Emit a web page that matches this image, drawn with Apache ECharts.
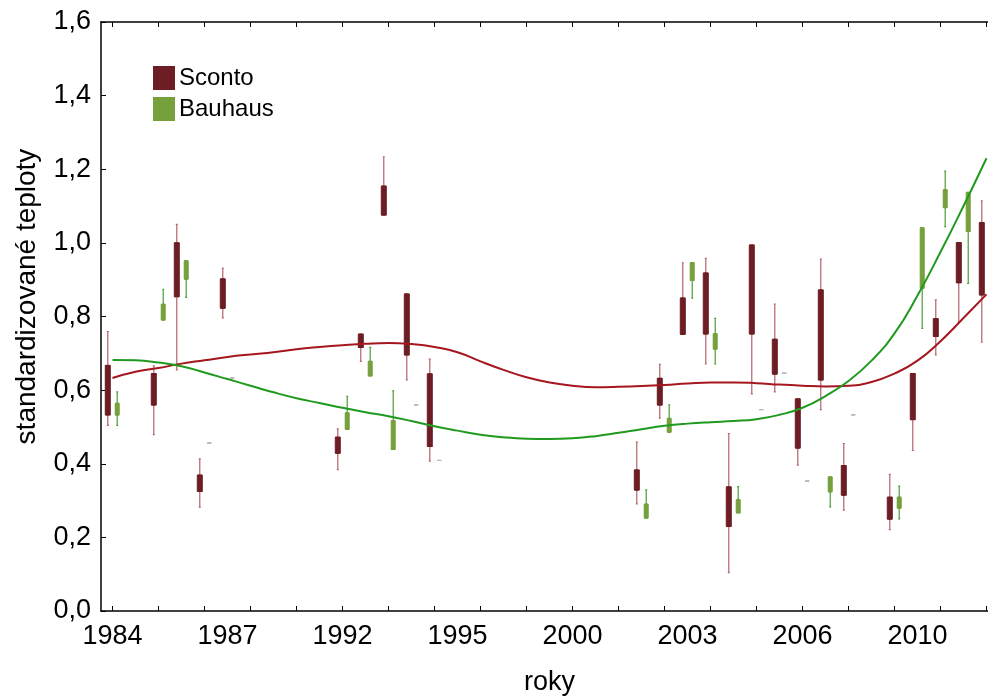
<!DOCTYPE html>
<html><head><meta charset="utf-8">
<script src="https://cdn.jsdelivr.net/npm/echarts@6/dist/echarts.min.js"></script>
<style>html,body{margin:0;padding:0;background:#fff}#c{width:988px;height:698px}</style>
</head><body><div id="c"></div>
<script>
// ---- categories (x axis) ----
const categories = ['1984','1985','1985','1986','1986','1987','1988','1989','1990','1991',
  '1992','1993','1993','1994','1994','1995','1996','1997','1998','1999',
  '2000','2001','2001','2002','2002','2003','2004','2004','2005','2005',
  '2006','2007','2007','2008','2009','2010','2011','2011','2012'];
const yTickLabels = ['0,0','0,2','0,4','0,6','0,8','1,0','1,2','1,4','1,6'];

// ---- Sconto: whisker low, box low, box high, whisker high ----
const N = null;
const scontoWhiskLow  = [0.504,N,0.479,0.655,0.282,0.796,N,N,N,N, 0.384,0.678,1.076,0.628,0.407,N,N,N,N,N, N,N,N,0.291,0.524,0.752,0.671,0.104,0.590,0.595, 0.396,0.547,0.274,N,0.221,0.436,0.696,0.786,0.730];
const scontoBoxLow    = [0.533,N,0.560,0.854,0.325,0.823,N,N,N,N, 0.429,0.716,1.076,0.696,0.447,N,N,N,N,N, N,N,N,0.329,0.560,0.752,0.753,0.230,0.753,0.644, 0.443,0.628,0.315,N,0.250,0.520,0.746,0.892,0.859];
const scontoBoxHigh   = [0.667,N,0.645,1.000,0.369,0.902,N,N,N,N, 0.472,0.752,1.154,0.861,0.644,N,N,N,N,N, N,N,N,0.383,0.632,0.850,0.918,0.337,0.994,0.738, 0.576,0.872,0.395,N,0.309,0.645,0.794,1.001,1.055];
const scontoWhiskHigh = [0.759,N,0.666,1.050,0.413,0.931,N,N,N,N, 0.495,0.752,1.234,0.861,0.684,N,N,N,N,N, N,N,N,0.459,0.670,0.946,0.958,0.482,0.994,0.834, 0.576,0.956,0.455,N,0.371,0.645,0.845,1.001,1.114];

// ---- Bauhaus ----
const bauhausWhiskLow  = [0.504,N,0.791,0.852,0.456,0.633,N,N,N,N, 0.494,0.639,0.439,0.560,0.409,N,N,N,N,N, N,N,N,0.253,0.486,0.850,0.671,0.267,0.547,0.646, 0.353,0.283,0.533,N,0.250,0.768,1.044,0.890,N];
const bauhausBoxLow    = [0.533,N,0.791,0.902,0.456,0.633,N,N,N,N, 0.494,0.639,0.439,0.560,0.409,N,N,N,N,N, N,N,N,0.253,0.486,0.898,0.712,0.267,0.547,0.646, 0.353,0.324,0.533,N,0.280,0.877,1.096,1.031,N];
const bauhausBoxHigh   = [0.564,N,0.833,0.951,0.456,0.633,N,N,N,N, 0.538,0.678,0.517,0.560,0.409,N,N,N,N,N, N,N,N,0.290,0.523,0.946,0.753,0.302,0.547,0.646, 0.353,0.364,0.533,N,0.309,1.041,1.144,1.137,N];
const bauhausWhiskHigh = [0.595,N,0.874,0.951,0.456,0.633,N,N,N,N, 0.583,0.716,0.598,0.560,0.409,N,N,N,N,N, N,N,N,0.329,0.560,0.946,0.795,0.338,0.547,0.646, 0.353,0.364,0.533,N,0.339,1.041,1.195,1.137,N];

// ---- fitted curves (values at category centres) ----
const scontoTrend  = [0.633,0.650,0.660,0.672,0.681,0.690,0.697,0.703,0.711,0.717,
  0.722,0.726,0.728,0.725,0.717,0.703,0.678,0.655,0.635,0.621,
  0.612,0.608,0.609,0.611,0.614,0.618,0.621,0.621,0.619,0.615,
  0.612,0.610,0.612,0.622,0.645,0.680,0.733,0.796,0.860];
const bauhausTrend = [0.682,0.681,0.675,0.665,0.648,0.630,0.612,0.594,0.578,0.565,
  0.552,0.540,0.529,0.516,0.502,0.490,0.479,0.472,0.468,0.467,
  0.469,0.475,0.484,0.494,0.503,0.509,0.513,0.516,0.521,0.533,
  0.552,0.584,0.625,0.680,0.754,0.857,0.975,1.100,1.230];

const FONT = "'Liberation Sans', Arial, sans-serif";
const C = {
  sBox:'#6c1e24', sWhisk:'#b4626a', sLine:'#a6161e',
  bBox:'#76a03c', bWhisk:'#4f9b36', bLine:'#1f9a1f', dash:'#b9bdb4'
};

function whiskerData(lo, q1, q3, hi) {
  return categories.map((_, i) => {
    if (q1[i] == null || lo[i] === hi[i]) return '-';
    return [lo[i], q1[i], q1[i], q3[i], hi[i]];
  });
}
function boxData(q1, q3) {
  return categories.map((_, i) => {
    if (q1[i] == null) return '-';
    const v = [q1[i], q1[i], q1[i], q3[i], q3[i]];
    if (q1[i] === q3[i]) return {value: v, itemStyle: {color: C.dash, borderColor: C.dash}};
    return v;
  });
}

const chart = echarts.init(document.getElementById('c'), null, {renderer: 'canvas'});
const axisLine = {show: true, lineStyle: {color: '#000', width: 1.5}};
chart.setOption({
  animation: false,
  textStyle: {fontFamily: FONT},
  grid: {left: 101, top: 22, width: 897, bottom: 87, containLabel: false, outerBoundsMode: 'none'},
  legend: {
    data: ['Sconto', 'Bauhaus'], orient: 'vertical', left: 148, top: 61,
    itemWidth: 20, itemHeight: 22, itemGap: 7, icon: 'rect',
    textStyle: {fontSize: 24, color: '#000', fontFamily: FONT}
  },
  xAxis: [{
    type: 'category', data: categories, position: 'bottom',
    name: 'roky', nameLocation: 'middle', nameGap: 58,
    nameTextStyle: {fontSize: 27, color: '#000', fontFamily: FONT},
    axisLine: axisLine,
    axisTick: {show: true, inside: true, interval: 1, alignWithLabel: true, length: 5, lineStyle: {color: '#000'}},
    axisLabel: {interval: 4, fontSize: 27, color: '#000', margin: 12, fontFamily: FONT},
    splitLine: {show: false}
  }, {
    type: 'category', data: categories, position: 'top',
    axisLine: axisLine,
    axisTick: {show: true, inside: true, interval: 1, alignWithLabel: true, length: 5, lineStyle: {color: '#000'}},
    axisLabel: {show: false}, splitLine: {show: false}
  }],
  yAxis: {
    type: 'value', min: 0, max: 1.6, interval: 0.2,
    name: 'standardizované teploty', nameLocation: 'middle', nameGap: 60,
    nameTextStyle: {fontSize: 28, color: '#000', fontFamily: FONT, padding: [0, 0, 0, 40]},
    axisLine: axisLine,
    axisTick: {show: true, inside: true, length: 5, lineStyle: {color: '#000'}},
    axisLabel: {fontSize: 27, color: '#000', margin: 10, fontFamily: FONT,
      formatter: (v) => yTickLabels[Math.round(v / 0.2)]},
    splitLine: {show: false}
  },
  series: [
    {name: 'Sconto whiskers', type: 'boxplot', xAxisIndex: 0, boxWidth: [2, 2], silent: true,
      itemStyle: {color: 'rgba(0,0,0,0)', borderColor: C.sWhisk, borderWidth: 1.2},
      emphasis: {disabled: true}, z: 2,
      data: whiskerData(scontoWhiskLow, scontoBoxLow, scontoBoxHigh, scontoWhiskHigh)},
    {name: 'Bauhaus whiskers', type: 'boxplot', xAxisIndex: 0, boxWidth: [2, 2], silent: true,
      itemStyle: {color: 'rgba(0,0,0,0)', borderColor: C.bWhisk, borderWidth: 1.2},
      emphasis: {disabled: true}, z: 2,
      data: whiskerData(bauhausWhiskLow, bauhausBoxLow, bauhausBoxHigh, bauhausWhiskHigh)},
    {name: 'Sconto', type: 'boxplot', xAxisIndex: 1, boxWidth: [5, 5], silent: true,
      itemStyle: {color: C.sBox, borderColor: C.sBox, borderWidth: 1},
      emphasis: {disabled: true}, z: 3,
      data: boxData(scontoBoxLow, scontoBoxHigh)},
    {name: 'Bauhaus', type: 'boxplot', xAxisIndex: 1, boxWidth: [4, 4], silent: true,
      itemStyle: {color: C.bBox, borderColor: C.bBox, borderWidth: 1},
      emphasis: {disabled: true}, z: 3,
      data: boxData(bauhausBoxLow, bauhausBoxHigh)},
    {name: 'Sconto trend', type: 'line', xAxisIndex: 0, data: scontoTrend, smooth: 0.5,
      showSymbol: false, silent: true, z: 5, lineStyle: {color: C.sLine, width: 2}},
    {name: 'Bauhaus trend', type: 'line', xAxisIndex: 0, data: bauhausTrend, smooth: 0.5,
      showSymbol: false, silent: true, z: 5, lineStyle: {color: C.bLine, width: 2}}
  ]
});
</script></body></html>
